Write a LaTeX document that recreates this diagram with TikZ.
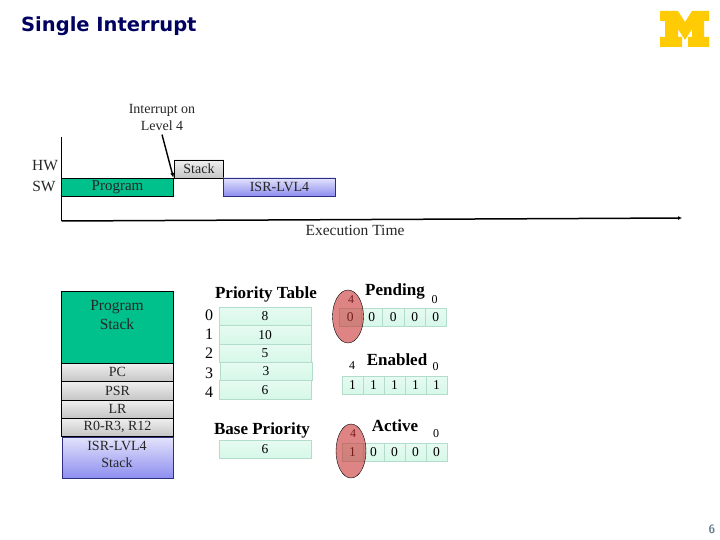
\documentclass[tikz,border=0pt]{standalone}
\usepackage{fontspec}
\setmainfont{Liberation Serif}
\newfontfamily\titlefont{DejaVu Sans}
\usetikzlibrary{positioning,shapes.geometric,arrows.meta,calc}
\definecolor{umichMaize}{HTML}{FFCB05}
\definecolor{titleNavy}{HTML}{000060}
\definecolor{progGreen}{HTML}{00C08B}
\definecolor{cellMint}{HTML}{D6F8E8}
\definecolor{cellEdge}{HTML}{B4DCCB}
\definecolor{isrBlue}{HTML}{8E8EF0}
\definecolor{isrEdge}{HTML}{2E2E80}
\definecolor{markRed}{HTML}{C83232}
\definecolor{pageGray}{HTML}{6C8290}
\tikzset{
    box/.style={draw=black, anchor=north west, inner sep=0pt, outer sep=0pt, text=black!85, font=\fontsize{14}{14}\selectfont},
    progbox/.style={box, fill=progGreen},
    graybox/.style={box, top color=gray!12, bottom color=gray!45},
    isrbox/.style={box, draw=isrEdge, top color=isrBlue!25, bottom color=isrBlue},
    cellbox/.style={draw=cellEdge, anchor=north west, inner sep=0pt, outer sep=0pt, minimum height=18.5pt, top color=cellMint!60, bottom color=cellMint, font=\fontsize{13.5}{13.5}\selectfont},
    heading/.style={font=\bfseries\fontsize{17}{17}\selectfont, inner sep=0pt},
    plain/.style={font=\fontsize{15.5}{15.5}\selectfont, inner sep=0pt, text=black!85},
    bitno/.style={font=\fontsize{12}{12}\selectfont, inner sep=0pt},
    marker/.style={ellipse, draw=black, fill=markRed, fill opacity=0.6, inner sep=0pt},
}
\begin{document}
\begin{tikzpicture}[x=1pt, y=-1pt]
    \useasboundingbox (0,0) rectangle (720,540);
    \node[anchor=west, inner sep=0pt, font=\titlefont\bfseries\fontsize{19.5}{19.5}\selectfont, text=titleNavy] (title) at (21,26) {Single Interrupt};
    \fill[umichMaize] (660,11) -- (678,11) -- (685,22) -- (692,11) -- (709,11) -- (709,21) -- (704,21) -- (704,37) -- (709,37) -- (709,47) -- (688,47) -- (688,37) -- (692,37) -- (692,29) -- (685,40) -- (678,29) -- (678,37) -- (682,37) -- (682,47) -- (660,47) -- (660,37) -- (665,37) -- (665,21) -- (660,21) -- cycle;

    \node[plain, align=center, inner ysep=4pt, font=\fontsize{14}{16.5}\selectfont] (interrupt) at (162,117.5) {Interrupt on\\Level 4};
    \node[plain] (hw) at (45,166) {HW};
    \node[plain] (sw) at (44,186) {SW};
    \node[progbox, minimum width=112pt, minimum height=18pt, font=\fontsize{15}{15}\selectfont] (program) at (61.5,178) {Program};
    \node[graybox, minimum width=49pt, minimum height=18pt] (stack) at (174.5,160) {Stack};
    \node[isrbox, minimum width=112pt, minimum height=18pt] (isr) at (223.5,178) {ISR-LVL4};
    \coordinate (axistop) at (61.5,137);
    \coordinate (origin) at (61.5,221);
    \coordinate (axisend) at (682,218);
    \draw[line width=0.8pt] (axistop) -- (origin);
    \draw[line width=1.5pt, -{Latex[length=4pt,width=4pt]}] (origin) -- (axisend);
    \draw[line width=1.4pt, -{Latex[length=5pt,width=4pt]}] (interrupt.south) -- (program.north east);
    \node[plain] (exectime) at (355,230) {Execution Time};

    \node[progbox, minimum width=112pt, minimum height=72pt] (progstack) at (61.5,291) {};
    \node[plain, align=center, font=\fontsize{15.5}{19}\selectfont] (progstacktext) at (117,315) {Program\\Stack};
    \node[graybox, minimum width=112pt, minimum height=18pt] (pc) at (61.5,363) {PC};
    \node[graybox, minimum width=112pt, minimum height=19pt] (psr) at (61.5,381) {PSR};
    \node[graybox, minimum width=112pt, minimum height=18pt] (lr) at (61.5,400) {LR};
    \node[graybox, minimum width=112pt, minimum height=18pt] (regs) at (61.5,418) {R0-R3, R12};
    \node[isrbox, minimum width=111pt, minimum height=41pt] (isrstack) at (62.5,437) {};
    \node[plain, align=center, font=\fontsize{14}{17}\selectfont] (isrstacktext) at (117,454) {ISR-LVL4\\Stack};

    \node[heading] (prioritytitle) at (266,294) {Priority Table};
    \foreach \a/\px/\py/\ly [count=\i from 0] in {8/219/307/315, 10/219/325.5/334, 5/219/344/353, 3/220/362/373, 6/219/380.5/392} {
        \node[cellbox, minimum width=92pt] (prio\i) at (\px,\py) {\a};
        \node[inner sep=0pt, font=\fontsize{16}{16}\selectfont] (num\i) at (209,\ly) {\i};
    }
    \node[heading] (basetitle) at (262,430) {Base Priority};
    \node[cellbox, minimum width=92pt] (base) at (219,440) {6};

    \node[heading] (pendingtitle) at (395,291) {Pending};
    \node[heading] (enabledtitle) at (397,360) {Enabled};
    \node[heading] (activetitle) at (395,426) {Active};
    \foreach \x [count=\i] in {339.5,361,382.5,404,425} {
        \node[cellbox, minimum width=21.4pt] (pend\i) at (\x,308) {0};
    }
    \foreach \x [count=\i] in {342,363,384,405,426} {
        \node[cellbox, minimum width=21pt] (enab\i) at (\x,376) {1};
    }
    \foreach \x/\a [count=\i] in {342/1,363/0,384/0,405/0,426/0} {
        \node[cellbox, minimum width=21pt] (actv\i) at (\x,443) {\a};
    }
    \node[bitno] (pendhi) at (351,300) {4};
    \node[bitno] (pendlo) at (434.5,300) {0};
    \node[bitno] (enabhi) at (352,366) {4};
    \node[bitno] (enablo) at (435.5,367) {0};
    \node[bitno] (actvhi) at (353,434) {4};
    \node[bitno] (actvlo) at (436,434) {0};
    \node[marker, minimum width=31pt, minimum height=53pt] (pendmark) at (348,316.5) {};
    \node[marker, minimum width=30pt, minimum height=54pt] (actvmark) at (351,451) {};

    \node[inner sep=0pt, text=pageGray, font=\sffamily\bfseries\fontsize{12}{12}\selectfont] (pagenum) at (712,529) {6};
\end{tikzpicture}
\end{document}
